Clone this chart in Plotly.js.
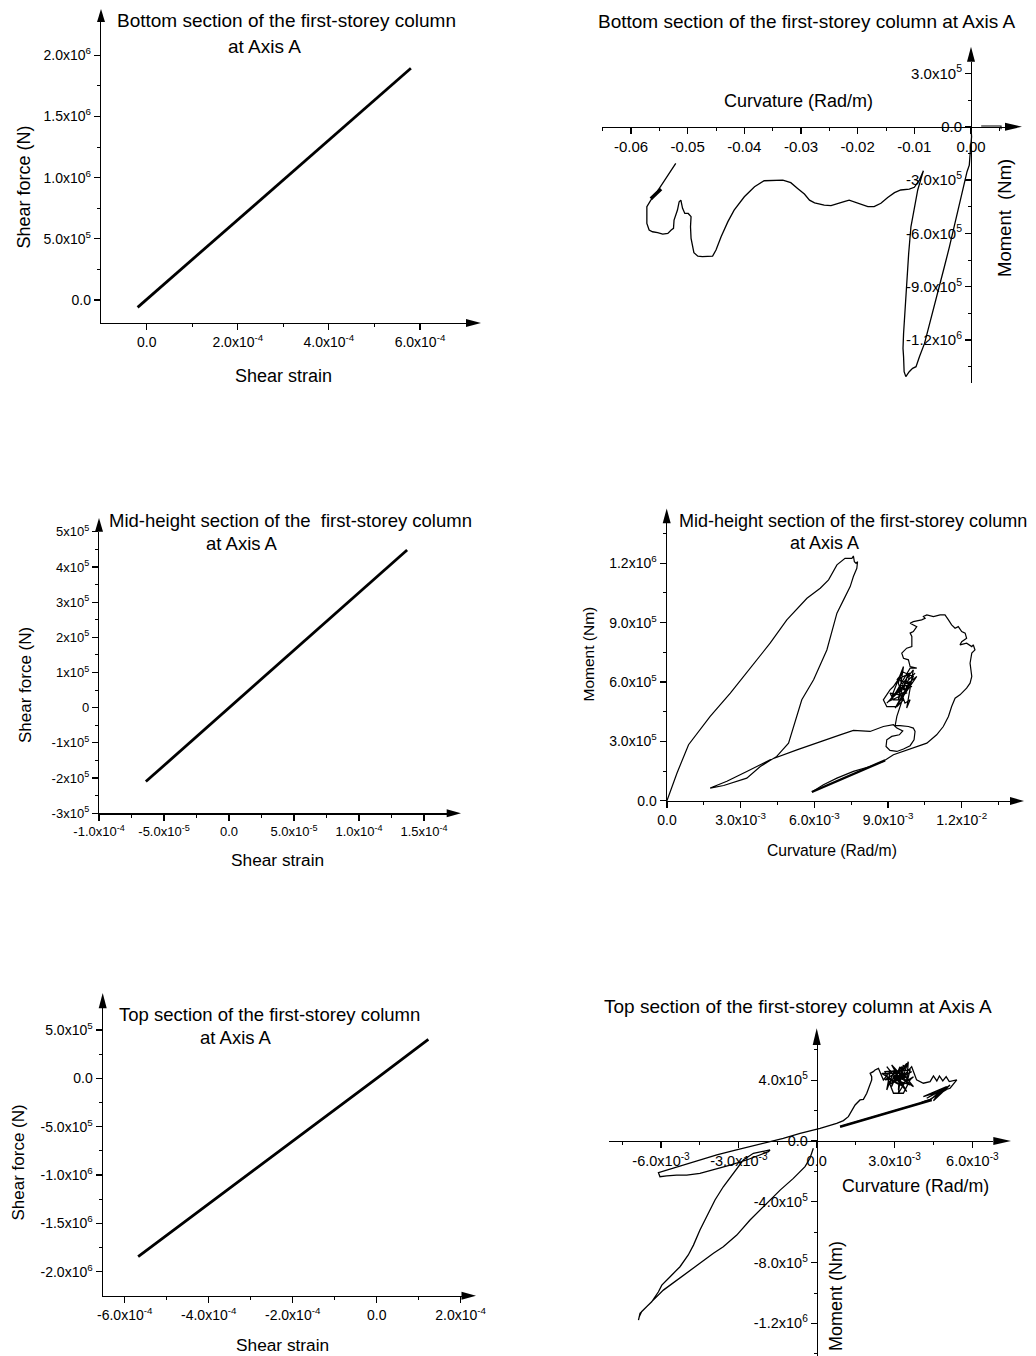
<!DOCTYPE html>
<html>
<head>
<meta charset="utf-8">
<script src="https://cdn.plot.ly/plotly-3.0.1.min.js"></script>
<style>html,body{margin:0;padding:0;background:#fff;}#chart{width:1036px;height:1356px;}</style>
</head>
<body>
<div id="chart"></div>
<script>
// ---------- DATA ----------
// Panel 1: bottom section, shear strain vs shear force
const shearStrainBottom = [-2.0e-5, 2.0e-4, 4.0e-4, 5.8e-4];
const shearForceBottom  = [-6.0e4, 6.54e5, 1.307e6, 1.893e6];

// Panel 2: bottom section, curvature vs moment
const curvBottom = [0, 0.0001, -0.0001, -0.0003, -0.0007, -0.0013, -0.0021, -0.0029, -0.0038, -0.0047,
  -0.0056, -0.0065, -0.0074, -0.0082, -0.0091, -0.0097, -0.0103, -0.0109, -0.0115, -0.0118,
  -0.0119, -0.0120, -0.0119, -0.0116, -0.0114, -0.0110, -0.0106, -0.0100, -0.0094, -0.0088, -0.0084,
  -0.0091, -0.0100, -0.0109, -0.0124, -0.0135, -0.0147, -0.0159, -0.0171, -0.0182, -0.0194,
  -0.0206, -0.0215, -0.0224, -0.0235, -0.0247, -0.0259, -0.0276, -0.0285, -0.0294, -0.0306,
  -0.0318, -0.0332, -0.0347, -0.0365, -0.0382, -0.0400, -0.0418, -0.0429, -0.0441, -0.0450,
  -0.0456, -0.0465, -0.0474, -0.0482, -0.0489, -0.0494, -0.0495, -0.0494, -0.0499, -0.0505,
  -0.0509, -0.0512, -0.0515, -0.0518, -0.0521, -0.0524, -0.0525, -0.0529, -0.0535, -0.0544,
  -0.0553, -0.0562, -0.0568, -0.0572, -0.0572, -0.0572, -0.0565, -0.0559, -0.0521];
const momBottom = [0, -56000, -131000, -216000, -253000, -338000, -450000, -563000, -675000, -788000,
  -900000, -1013000, -1125000, -1219000, -1294000, -1350000, -1359000, -1378000, -1406000, -1378000,
  -1294000, -1247000, -1163000, -1013000, -863000, -713000, -563000, -450000, -356000, -291000, -248000,
  -300000, -341000, -351000, -356000, -371000, -398000, -431000, -450000, -450000, -435000,
  -422000, -413000, -422000, -431000, -444000, -441000, -428000, -413000, -379000, -347000,
  -315000, -300000, -300000, -304000, -338000, -394000, -469000, -534000, -619000, -694000,
  -728000, -731000, -731000, -728000, -709000, -628000, -563000, -506000, -488000, -488000,
  -459000, -413000, -422000, -469000, -497000, -525000, -572000, -581000, -600000, -604000,
  -596000, -591000, -581000, -544000, -488000, -450000, -413000, -390000, -206000];
const curvBottomBlob = [-0.0565, -0.0547];
const momBottomBlob  = [-405000, -350000];
const curvBottomTail = [0.0018, 0.0053, 0.0053];
const momBottomTail  = [3750, 3750, -15000];

// Panel 3: mid-height, shear strain vs shear force
const shearStrainMid = [-6.4e-5, 0, 5.0e-5, 1.37e-4];
const shearForceMid  = [-2.10e5, 0, 1.64e5, 4.48e5];

// Panel 4: mid-height, curvature vs moment
const curvMid = [0, 0.00041, 0.00088, 0.00176, 0.00258, 0.00339, 0.00420, 0.00488, 0.00570, 0.00624,
  0.00658, 0.00692, 0.00725, 0.00753, 0.00759, 0.00763, 0.00770, 0.00776, 0.00773, 0.00759,
  0.00746, 0.00719, 0.00692, 0.00651, 0.00597, 0.00549, 0.00515, 0.00495, 0.00447, 0.00380,
  0.00325, 0.00285, 0.00231, 0.00176, 0.00244, 0.00325, 0.00420, 0.00529, 0.00624, 0.00705,
  0.00759, 0.00827, 0.00881,
  0.00922, 0.00936, 0.00960, 0.00946, 0.00915, 0.00895, 0.00892, 0.00908, 0.00936, 0.00963,
  0.00990, 0.01006, 0.01010, 0.01003, 0.00983, 0.00949, 0.00929,
  0.00936, 0.00949, 0.00963, 0.00976,
  0.00990, 0.00936, 0.00963, 0.00922, 0.00908, 0.00888, 0.00881, 0.00895, 0.00936, 0.00963,
  0.00922, 0.00908, 0.00949, 0.00976, 0.01003, 0.00956, 0.00942, 0.00969, 0.00990, 0.00976,
  0.01003, 0.00908, 0.01010, 0.00895, 0.00990, 0.00929, 0.01017, 0.00915, 0.00963, 0.00942,
  0.00983, 0.00963, 0.00997, 0.00949, 0.00976, 0.00902, 0.00922,
  0.00990, 0.01017, 0.00990,
  0.00983, 0.00963, 0.00956, 0.00976, 0.00997, 0.00997, 0.00990, 0.01003, 0.01017, 0.01003,
  0.00990, 0.01003, 0.01037, 0.01051, 0.01044, 0.01058, 0.01085, 0.01112, 0.01132, 0.01146,
  0.01159, 0.01173, 0.01186, 0.01200, 0.01214, 0.01220, 0.01200, 0.01193, 0.01220, 0.01241,
  0.01247, 0.01254, 0.01241, 0.01234, 0.01241, 0.01234, 0.01220, 0.01193, 0.01173, 0.01159,
  0.01146, 0.01125, 0.01098, 0.01058, 0.01003, 0.00949, 0.00922, 0.00881, 0.00827, 0.00759,
  0.00692, 0.00637, 0.00590];
const momMid = [0, 1.40e5, 2.83e5, 4.26e5, 5.44e5, 6.70e5, 7.96e5, 9.14e5, 1.023e6, 1.074e6,
  1.116e6, 1.192e6, 1.225e6, 1.225e6, 1.237e6, 1.208e6, 1.200e6, 1.208e6, 1.175e6, 1.133e6,
  1.082e6, 1.015e6, 9.48e5, 7.62e5, 6.11e5, 5.10e5, 3.75e5, 2.91e5, 2.24e5, 1.73e5,
  1.14e5, 9.8e4, 7.7e4, 6.4e4, 9.8e4, 1.48e5, 2.07e5, 2.57e5, 3.00e5, 3.33e5,
  3.55e5, 3.50e5, 3.75e5,
  3.84e5, 3.67e5, 3.53e5, 3.33e5, 3.25e5, 3.08e5, 2.74e5, 2.54e5, 2.49e5, 2.61e5,
  2.78e5, 3.08e5, 3.50e5, 3.67e5, 3.75e5, 3.79e5, 3.79e5,
  4.26e5, 4.76e5, 5.27e5, 5.77e5,
  6.45e5, 6.11e5, 6.53e5, 5.77e5, 5.60e5, 5.27e5, 5.10e5, 4.76e5, 4.76e5, 5.10e5,
  5.10e5, 5.44e5, 5.35e5, 5.60e5, 6.28e5, 6.53e5, 5.94e5, 4.93e5, 5.10e5, 4.68e5,
  6.61e5, 5.10e5, 6.45e5, 4.93e5, 6.03e5, 4.68e5, 6.28e5, 5.27e5, 6.78e5, 5.10e5,
  6.45e5, 5.60e5, 5.77e5, 6.11e5, 5.44e5, 5.01e5, 5.27e5,
  6.70e5, 6.70e5, 6.78e5,
  7.12e5, 7.20e5, 7.46e5, 7.71e5, 7.79e5, 8.30e5, 8.47e5, 8.55e5, 8.80e5, 8.89e5,
  8.97e5, 9.05e5, 9.14e5, 9.22e5, 9.31e5, 9.39e5, 9.31e5, 9.39e5, 9.39e5, 9.14e5,
  8.89e5, 8.72e5, 8.80e5, 8.55e5, 8.47e5, 8.21e5, 8.04e5, 7.88e5, 7.96e5, 7.79e5,
  7.88e5, 7.62e5, 7.46e5, 6.95e5, 6.28e5, 5.94e5, 5.69e5, 5.35e5, 5.18e5, 4.76e5,
  4.26e5, 3.75e5, 3.33e5, 2.91e5, 2.66e5, 2.41e5, 2.32e5, 1.99e5, 1.73e5, 1.48e5,
  1.14e5, 8.1e4, 4.4e4];
const curvMidThick = [0.00590, 0.00881, 0.00594, 0.00888];
const momMidThick  = [4.4e4, 1.99e5, 4.7e4, 2.04e5];

// Panel 5: top section, shear strain vs shear force
const shearStrainTop = [-5.68e-4, -2.0e-4, 0, 1.23e-4];
const shearForceTop  = [-1.846e6, -6.56e5, 0, 4.03e5];

// Panel 6: top section, curvature vs moment
const curvTop = [-0.00013, -0.00026, -0.00045, -0.00058, -0.00090, -0.00141, -0.00193, -0.00257, -0.00308, -0.00360,
  -0.00398, -0.00450, -0.00501, -0.00553, -0.00591, -0.00630, -0.00655, -0.00675, -0.00684, -0.00687,
  -0.00681, -0.00662, -0.00636, -0.00610, -0.00597, -0.00565, -0.00527, -0.00495, -0.00475, -0.00450,
  -0.00418, -0.00392, -0.00360, -0.00321, -0.00283, -0.00244, -0.00206, -0.00180, -0.00186,
  -0.00218, -0.00270, -0.00334, -0.00398, -0.00450, -0.00501, -0.00540, -0.00578, -0.00604, -0.00610,
  -0.00578, -0.00514, -0.00450, -0.00385, -0.00321, -0.00257, -0.00193, -0.00129, -0.00064, 0.00013,
  0.00077, 0.00103, 0.00122, 0.00135, 0.00148, 0.00167, 0.00180, 0.00193, 0.00206, 0.00212,
  0.00212, 0.00206, 0.00218, 0.00225, 0.00238,
  0.00257, 0.00283, 0.00270, 0.00302, 0.00289, 0.00321, 0.00315, 0.00334, 0.00328, 0.00353,
  0.00347, 0.00360, 0.00263, 0.00296, 0.00334, 0.00360, 0.00373, 0.00321, 0.00283, 0.00341,
  0.00251, 0.00334, 0.00270, 0.00347, 0.00289, 0.00360, 0.00302, 0.00366, 0.00276, 0.00328,
  0.00315, 0.00353, 0.00263, 0.00321, 0.00373, 0.00308, 0.00347, 0.00315,
  0.00366, 0.00385, 0.00411, 0.00437,
  0.00450, 0.00463, 0.00473, 0.00486, 0.00499, 0.00511, 0.00540, 0.00527, 0.00514,
  0.00411, 0.00501, 0.00424, 0.00488, 0.00437, 0.00475, 0.00450, 0.00514,
  0.00456, 0.00501, 0.00437, 0.00411, 0.00398, 0.00090];
const momTop = [-4.8e4, -1.14e5, -1.69e5, -1.91e5, -2.46e5, -3.23e5, -4.10e5, -5.20e5, -6.19e5, -6.96e5,
  -7.39e5, -8.05e5, -8.71e5, -9.37e5, -9.81e5, -1.047e6, -1.091e6, -1.123e6, -1.156e6, -1.178e6,
  -1.134e6, -1.101e6, -1.058e6, -9.92e5, -9.48e5, -8.93e5, -8.27e5, -7.50e5, -6.85e5, -5.86e5,
  -4.76e5, -3.88e5, -3.01e5, -2.13e5, -1.25e5, -8.1e4, -7.0e4, -5.9e4, -7.0e4,
  -9.2e4, -1.25e5, -1.58e5, -1.91e5, -2.13e5, -2.24e5, -2.24e5, -2.30e5, -2.35e5, -2.08e5,
  -1.91e5, -1.58e5, -1.25e5, -9.2e4, -6.4e4, -3.7e4, -1.1e4, 1.8e4, 5.0e4, 8.3e4,
  1.16e5, 1.34e5, 1.60e5, 2.04e5, 2.37e5, 2.70e5, 2.74e5, 3.14e5, 3.69e5, 4.02e5,
  4.23e5, 4.45e5, 4.56e5, 4.67e5, 4.78e5,
  4.02e5, 4.56e5, 3.36e5, 4.78e5, 3.58e5, 4.89e5, 3.36e5, 5.00e5, 4.02e5, 5.22e5,
  3.80e5, 4.67e5, 4.56e5, 3.14e5, 3.14e5, 4.02e5, 4.23e5, 3.69e5, 4.02e5, 4.45e5,
  4.45e5, 3.58e5, 4.89e5, 3.25e5, 5.00e5, 3.69e5, 4.02e5, 4.56e5, 3.69e5, 4.89e5,
  3.14e5, 4.23e5, 4.02e5, 4.67e5, 3.58e5, 4.34e5, 5.11e5, 3.91e5,
  4.89e5, 4.02e5, 3.80e5, 3.91e5,
  4.28e5, 3.95e5, 4.28e5, 3.95e5, 4.23e5, 3.91e5, 4.02e5, 3.75e5, 3.47e5,
  2.92e5, 3.58e5, 2.81e5, 3.40e5, 2.70e5, 3.25e5, 2.65e5, 3.69e5,
  2.96e5, 3.40e5, 2.74e5, 2.59e5, 2.48e5, 9.4e4];
const curvTopThick = [0.00090, 0.00443, 0.00093, 0.00440];
const momTopThick  = [9.4e4, 2.70e5, 9.9e4, 2.68e5];

// Tick values / labels
const tv1x = [0, 2e-4, 4e-4, 6e-4];
const tt1x = ['0.0', '2.0x10<sup>-4</sup>', '4.0x10<sup>-4</sup>', '6.0x10<sup>-4</sup>'];
const mv1x = [1e-4, 3e-4, 5e-4];
const tv1y = [0, 5e5, 1e6, 1.5e6, 2e6];
const tt1y = ['0.0', '5.0x10<sup>5</sup>', '1.0x10<sup>6</sup>', '1.5x10<sup>6</sup>', '2.0x10<sup>6</sup>'];
const mv1y = [2.5e5, 7.5e5, 1.25e6, 1.75e6];

const tv2x = [-0.06, -0.05, -0.04, -0.03, -0.02, -0.01, 0];
const tt2x = ['-0.06', '-0.05', '-0.04', '-0.03', '-0.02', '-0.01', '0.00'];
const mv2x = [-0.065, -0.055, -0.045, -0.035, -0.025, -0.015, -0.005, 0.005];
const tv2y = [3e5, 0, -3e5, -6e5, -9e5, -1.2e6];
const tt2y = ['3.0x10<sup>5</sup>', '0.0', '-3.0x10<sup>5</sup>', '-6.0x10<sup>5</sup>', '-9.0x10<sup>5</sup>', '-1.2x10<sup>6</sup>'];
const mv2y = [1.5e5, -1.5e5, -4.5e5, -7.5e5, -1.05e6, -1.35e6];

const tv3x = [-1e-4, -5e-5, 0, 5e-5, 1e-4, 1.5e-4];
const tt3x = ['-1.0x10<sup>-4</sup>', '-5.0x10<sup>-5</sup>', '0.0', '5.0x10<sup>-5</sup>', '1.0x10<sup>-4</sup>', '1.5x10<sup>-4</sup>'];
const mv3x = [-7.5e-5, -2.5e-5, 2.5e-5, 7.5e-5, 1.25e-4];
const tv3y = [-3e5, -2e5, -1e5, 0, 1e5, 2e5, 3e5, 4e5, 5e5];
const tt3y = ['-3x10<sup>5</sup>', '-2x10<sup>5</sup>', '-1x10<sup>5</sup>', '0', '1x10<sup>5</sup>', '2x10<sup>5</sup>', '3x10<sup>5</sup>', '4x10<sup>5</sup>', '5x10<sup>5</sup>'];
const mv3y = [-2.5e5, -1.5e5, -5e4, 5e4, 1.5e5, 2.5e5, 3.5e5, 4.5e5];

const tv4x = [0, 3e-3, 6e-3, 9e-3, 1.2e-2];
const tt4x = ['0.0', '3.0x10<sup>-3</sup>', '6.0x10<sup>-3</sup>', '9.0x10<sup>-3</sup>', '1.2x10<sup>-2</sup>'];
const mv4x = [1.5e-3, 4.5e-3, 7.5e-3, 1.05e-2, 1.35e-2];
const tv4y = [0, 3e5, 6e5, 9e5, 1.2e6];
const tt4y = ['0.0', '3.0x10<sup>5</sup>', '6.0x10<sup>5</sup>', '9.0x10<sup>5</sup>', '1.2x10<sup>6</sup>'];
const mv4y = [1.5e5, 4.5e5, 7.5e5, 1.05e6, 1.35e6];

const tv5x = [-6e-4, -4e-4, -2e-4, 0, 2e-4];
const tt5x = ['-6.0x10<sup>-4</sup>', '-4.0x10<sup>-4</sup>', '-2.0x10<sup>-4</sup>', '0.0', '2.0x10<sup>-4</sup>'];
const mv5x = [-5e-4, -3e-4, -1e-4, 1e-4];
const tv5y = [5e5, 0, -5e5, -1e6, -1.5e6, -2e6];
const tt5y = ['5.0x10<sup>5</sup>', '0.0', '-5.0x10<sup>5</sup>', '-1.0x10<sup>6</sup>', '-1.5x10<sup>6</sup>', '-2.0x10<sup>6</sup>'];
const mv5y = [2.5e5, -2.5e5, -7.5e5, -1.25e6, -1.75e6];

const tv6x = [-6e-3, -3e-3, 0, 3e-3, 6e-3];
const tt6x = ['-6.0x10<sup>-3</sup>', '-3.0x10<sup>-3</sup>', '0.0', '3.0x10<sup>-3</sup>', '6.0x10<sup>-3</sup>'];
const mv6x = [-7.5e-3, -4.5e-3, -1.5e-3, 1.5e-3, 4.5e-3];
const tv6y = [4e5, 0, -4e5, -8e5, -1.2e6];
const tt6y = ['4.0x10<sup>5</sup>', '0.0', '-4.0x10<sup>5</sup>', '-8.0x10<sup>5</sup>', '-1.2x10<sup>6</sup>'];
const mv6y = [6e5, 2e5, -2e5, -6e5, -1e6, -1.4e6];

// ---------- LAYOUT ----------
const W = 1036, H = 1356;
const FONT = 'Liberation Sans, Arial, Helvetica, sans-serif';
const PX = p => p / W;
const PY = p => 1 - p / H;

// pixel boxes of the six plot areas: [left, right, top, bottom]
const box = {
  1: [101, 466, 22, 323],
  2: [601.7, 1005, 61.7, 383.3],
  3: [99, 446.7, 531.7, 813.3],
  4: [666.7, 1010, 523.3, 801],
  5: [102.7, 461.5, 1008.3, 1295.7],
  6: [609.3, 993.3, 1045, 1356]
};
const ranges = {
  1: {x: [-1.0033e-4, 7.010e-4], y: [-1.879e5, 2.2712e6]},
  2: {x: [-0.06517, 0.0060], y: [-1.4434e6, 3.656e5]},
  3: {x: [-1.0005e-4, 1.6746e-4], y: [-3.002e5, 5.002e5]},
  4: {x: [-0.00001, 0.013966], y: [-1500, 1.4021e6]},
  5: {x: [-6.524e-4, 2.019e-4], y: [-2.2491e6, 7.242e5]},
  6: {x: [-0.0079943, 0.006807], y: [-1.41447e6, 6.316e5]}
};

function ax(n, which, tv, tt, mv, fs) {
  const b = box[n];
  const dom = which === 'x' ? [PX(b[0]), PX(b[1])] : [PY(b[3]), PY(b[2])];
  return {
    domain: dom, range: ranges[n][which], tickmode: 'array', tickvals: tv, ticktext: tt,
    showline: true, linecolor: '#000', linewidth: 1.2, mirror: false,
    ticks: 'outside', ticklen: 6, tickwidth: 1.2, tickcolor: '#000',
    showgrid: false, zeroline: false, fixedrange: true,
    tickfont: {family: FONT, size: fs, color: '#000'},
    minor: {tickmode: 'array', tickvals: mv, ticks: 'outside', ticklen: 3, tickwidth: 1, tickcolor: '#000', showgrid: false}
  };
}

const layout = {
  width: W, height: H, autosize: false,
  margin: {l: 0, r: 0, t: 0, b: 0, pad: 0},
  paper_bgcolor: '#fff', plot_bgcolor: 'rgba(0,0,0,0)',
  showlegend: false,
  font: {family: FONT, color: '#000', size: 14},
  xaxis:  Object.assign(ax(1, 'x', tv1x, tt1x, mv1x, 14), {anchor: 'y'}),
  yaxis:  Object.assign(ax(1, 'y', tv1y, tt1y, mv1y, 14), {anchor: 'x'}),
  xaxis2: Object.assign(ax(2, 'x', tv2x, tt2x, mv2x, 15), {anchor: 'free', position: PY(126.7)}),
  yaxis2: Object.assign(ax(2, 'y', tv2y, tt2y, mv2y, 15), {anchor: 'free', position: PX(971)}),
  xaxis3: Object.assign(ax(3, 'x', tv3x, tt3x, mv3x, 13), {anchor: 'y3'}),
  yaxis3: Object.assign(ax(3, 'y', tv3y, tt3y, mv3y, 13), {anchor: 'x3'}),
  xaxis4: Object.assign(ax(4, 'x', tv4x, tt4x, mv4x, 14), {anchor: 'y4'}),
  yaxis4: Object.assign(ax(4, 'y', tv4y, tt4y, mv4y, 14), {anchor: 'x4'}),
  xaxis5: Object.assign(ax(5, 'x', tv5x, tt5x, mv5x, 14), {anchor: 'y5'}),
  yaxis5: Object.assign(ax(5, 'y', tv5y, tt5y, mv5y, 14), {anchor: 'x5'}),
  xaxis6: Object.assign(ax(6, 'x', tv6x, tt6x, mv6x, 14.5), {anchor: 'free', position: PY(1141)}),
  yaxis6: Object.assign(ax(6, 'y', tv6y, tt6y, mv6y, 14.5), {anchor: 'free', position: PX(816.7)}),
  annotations: [],
  shapes: []
};

function label(text, x, y, size, angle) {
  layout.annotations.push({
    text: text, xref: 'paper', yref: 'paper', x: PX(x), y: PY(y),
    xanchor: 'center', yanchor: 'middle', showarrow: false,
    textangle: angle || 0, font: {family: FONT, size: size, color: '#000'}
  });
}
// chart titles
label('Bottom section of the first-storey column', 286, 21, 19);
label('at Axis A', 264.5, 47, 19);
label('Bottom section of the first-storey column at Axis A', 806, 22, 19);
label('Mid-height section of the&nbsp; first-storey column', 290, 521, 18.5);
label('at Axis A', 242, 543, 18.5);
label('Mid-height section of the first-storey column', 853, 521, 18);
label('at Axis A', 824, 543, 18);
label('Top section of the first-storey column', 269, 1014, 18.5);
label('at Axis A', 236, 1037, 18.5);
label('Top section of the first-storey column at Axis A', 797.5, 1007, 19);
// axis titles
label('Shear strain', 283, 376, 18);
label('Shear force (N)', 23.5, 187, 18, -90);
label('Curvature (Rad/m)', 798, 101, 18);
label('Moment&nbsp; (Nm)', 1004, 218, 18.5, -90);
label('Shear strain', 277, 860, 17.3);
label('Shear force (N)', 25, 685, 17, -90);
label('Curvature (Rad/m)', 832, 850, 15.7);
label('Moment (Nm)', 587.5, 654, 15.5, -90);
label('Shear strain', 282, 1345, 17.3);
label('Shear force (N)', 17.5, 1163, 17, -90);
label('Curvature (Rad/m)', 915, 1186, 17.8);
label('Moment (Nm)', 836, 1296, 18, -90);

// axis arrowheads (filled triangles)
function arrowUp(x, base, tip) {
  layout.shapes.push({type: 'path', xref: 'paper', yref: 'paper', line: {width: 0}, fillcolor: '#000',
    path: `M ${PX(x - 4)},${PY(base)} L ${PX(x + 4)},${PY(base)} L ${PX(x)},${PY(tip)} Z`});
}
function arrowRight(y, base, tip) {
  layout.shapes.push({type: 'path', xref: 'paper', yref: 'paper', line: {width: 0}, fillcolor: '#000',
    path: `M ${PX(base)},${PY(y - 4)} L ${PX(base)},${PY(y + 4)} L ${PX(tip)},${PY(y)} Z`});
}
arrowUp(101, 22, 9);        arrowRight(323, 466, 481);
arrowUp(971, 61.7, 46.7);   arrowRight(126.7, 1005, 1022);
arrowUp(99, 531.7, 518);    arrowRight(813.3, 446.7, 461);
arrowUp(666.7, 523.3, 508.5); arrowRight(801, 1010, 1024);
arrowUp(102.7, 1008.3, 993); arrowRight(1295.7, 461.5, 476);
arrowUp(816.7, 1045, 1028.3); arrowRight(1141, 993.3, 1011);

// ---------- TRACES ----------
function tr(x, y, xa, ya, w) {
  return {x: x, y: y, xaxis: xa, yaxis: ya, type: 'scatter', mode: 'lines',
    line: {color: '#000', width: w}, hoverinfo: 'skip'};
}
const traces = [
  tr(shearStrainBottom, shearForceBottom, 'x', 'y', 2.8),
  tr(curvBottom, momBottom, 'x2', 'y2', 1.3),
  tr(curvBottomBlob, momBottomBlob, 'x2', 'y2', 3.5),
  tr(curvBottomTail, momBottomTail, 'x2', 'y2', 1.1),
  tr(shearStrainMid, shearForceMid, 'x3', 'y3', 2.8),
  tr(curvMid, momMid, 'x4', 'y4', 1.2),
  tr(curvMidThick, momMidThick, 'x4', 'y4', 2.4),
  tr(shearStrainTop, shearForceTop, 'x5', 'y5', 2.8),
  tr(curvTop, momTop, 'x6', 'y6', 1.3),
  tr(curvTopThick, momTopThick, 'x6', 'y6', 2.6)
];

Plotly.newPlot('chart', traces, layout, {displayModeBar: false, staticPlot: true});
</script>
</body>
</html>
